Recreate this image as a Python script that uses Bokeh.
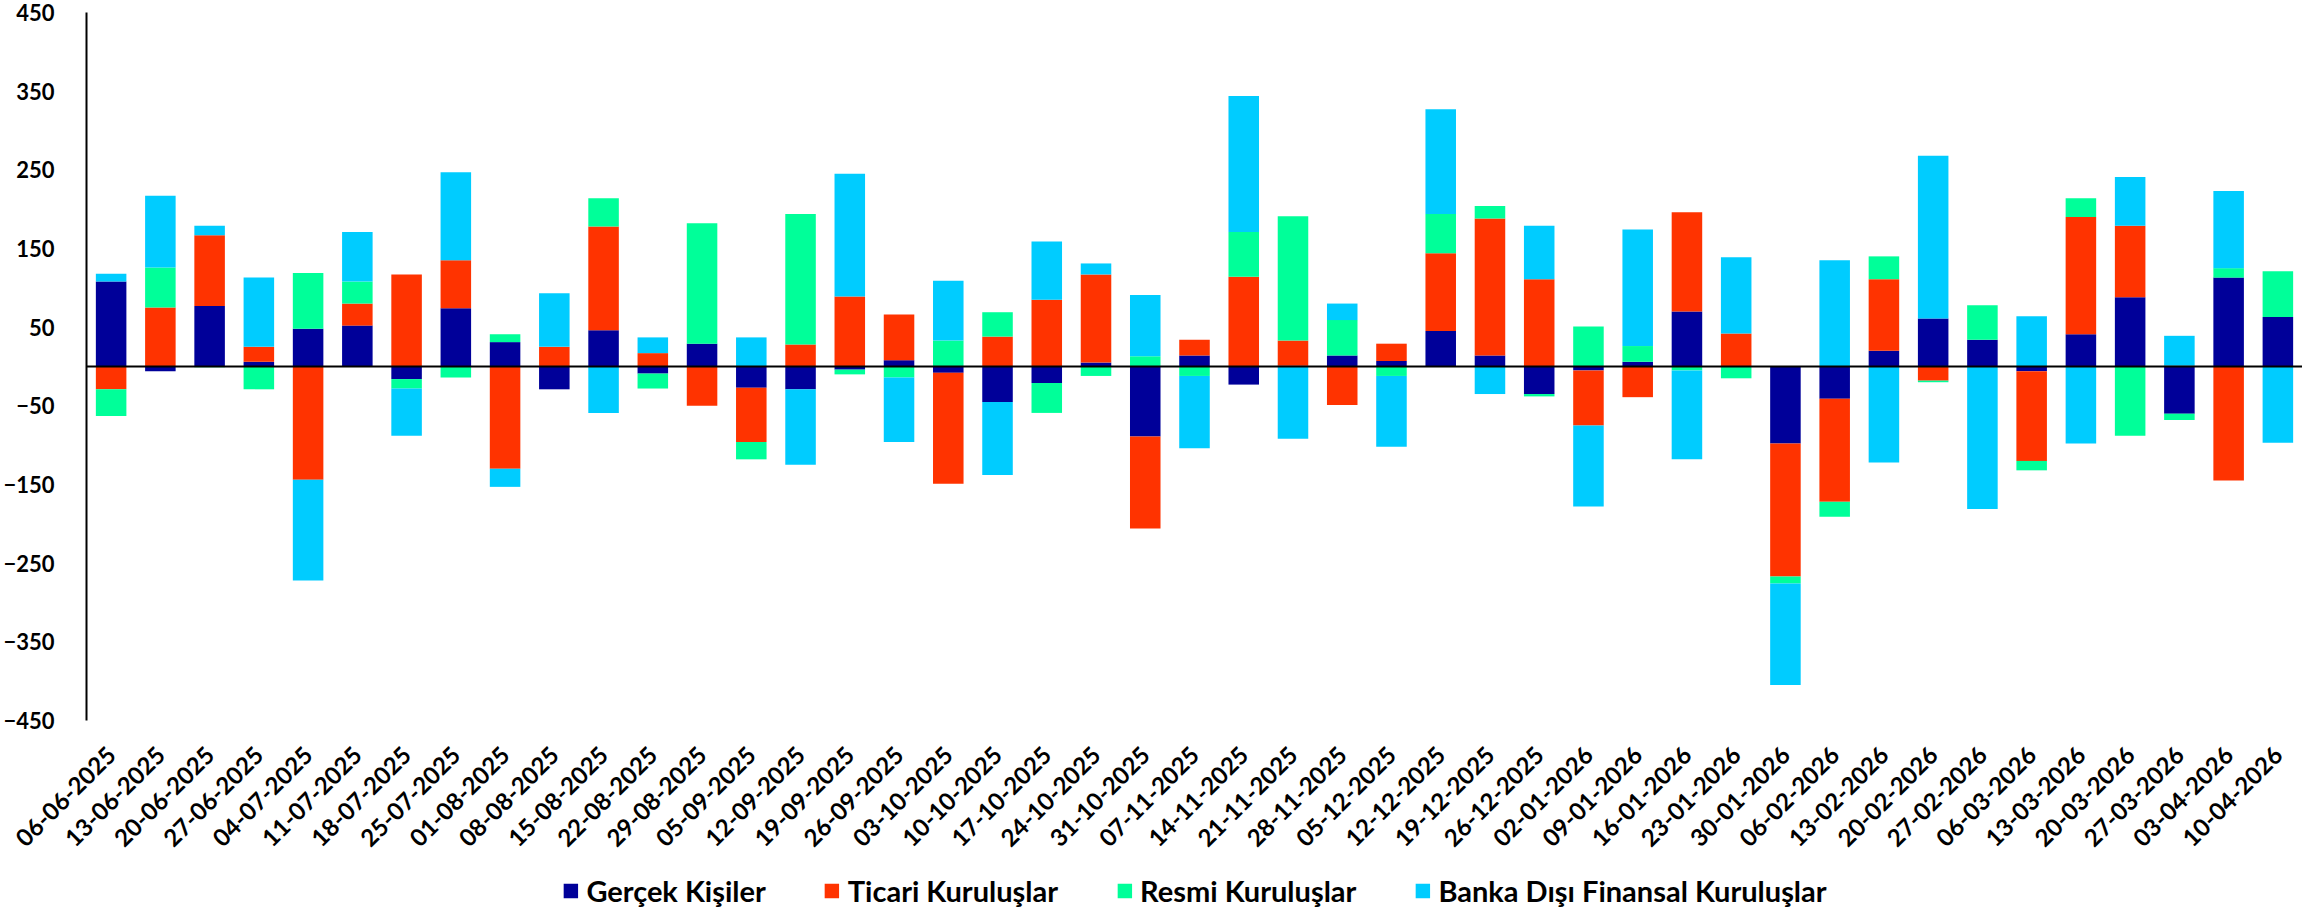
import math
from bokeh.plotting import figure
from bokeh.layouts import column
from bokeh.models import (ColumnDataSource, FactorRange, FixedTicker, Span,
                          Legend, LegendItem, Range1d)
from bokeh.embed import file_html
from bokeh.resources import INLINE

dates = ["06-06-2025", "13-06-2025", "20-06-2025", "27-06-2025", "04-07-2025",
         "11-07-2025", "18-07-2025", "25-07-2025", "01-08-2025", "08-08-2025",
         "15-08-2025", "22-08-2025", "29-08-2025", "05-09-2025", "12-09-2025",
         "19-09-2025", "26-09-2025", "03-10-2025", "10-10-2025", "17-10-2025",
         "24-10-2025", "31-10-2025", "07-11-2025", "14-11-2025", "21-11-2025",
         "28-11-2025", "05-12-2025", "12-12-2025", "19-12-2025", "26-12-2025",
         "02-01-2026", "09-01-2026", "16-01-2026", "23-01-2026", "30-01-2026",
         "06-02-2026", "13-02-2026", "20-02-2026", "27-02-2026", "06-03-2026",
         "13-03-2026", "20-03-2026", "27-03-2026", "03-04-2026", "10-04-2026"]

gercek_kisiler = [108, -6, 77, 6, 48, 52, -16, 74, 31, -29,
                  46, -9, 29, -27, -29, -4, 8, -8, -45, -21,
                  5, -89, 14, -23, 1, 14, 7, 45, 14, -35,
                  -5, 6, 70, 0, -98, -41, 20, 61, 34, -6,
                  41, 88, -60, 113, 63]
ticari_kuruluslar = [-29, 75, 90, 19, -144, 28, 117, 61, -130, 25,
                     132, 17, -50, -69, 28, 89, 58, -141, 38, 85,
                     112, -117, 20, 114, 32, -49, 22, 99, 174, 111,
                     -70, -39, 126, 42, -169, -131, 91, -18, 0, -114,
                     149, 91, 1, -145, 0]
resmi_kuruluslar = [-34, 51, -1, -29, 71, 28, -12, -14, 10, 0,
                    36, -19, 153, -22, 166, -6, -14, 33, 31, -38,
                    -12, 13, -12, 57, 158, 45, -12, 50, 16, -3,
                    51, 20, -5, -15, -9, -19, 29, -2, 44, -12,
                    24, -88, -8, 12, 58]
banka_disi = [10, 91, 12, 88, -128, 63, -60, 112, -23, 68,
              -59, 20, 0, 37, -96, 156, -82, 76, -93, 74,
              14, 78, -92, 173, -92, 21, -90, 133, -35, 68,
              -103, 148, -113, 97, -129, 135, -122, 207, -181, 64,
              -98, 62, 38, 98, -97]

series_names = ["Gerçek Kişiler", "Ticari Kuruluşlar", "Resmi Kuruluşlar",
                "Banka Dışı Finansal Kuruluşlar"]
series_values = [gercek_kisiler, ticari_kuruluslar, resmi_kuruluslar, banka_disi]
colors = ["#000099", "#FF3300", "#00FF99", "#00CCFF"]
y_ticks = [-450, -350, -250, -150, -50, 50, 150, 250, 350, 450]

FONT = "Lato"

p = figure(x_range=FactorRange(*dates, range_padding=0),
           y_range=Range1d(-450, 450),
           width=2302, height=906, output_backend="svg",
           toolbar_location=None, min_border_left=76, min_border_top=12,
           min_border_right=0, min_border_bottom=186)
p.outline_line_color = None
p.xgrid.grid_line_color = None
p.ygrid.grid_line_color = None

pos_base = [0.0] * len(dates)
neg_base = [0.0] * len(dates)
for name, vals, col in zip(series_names, series_values, colors):
    xs, bots, tops = [], [], []
    for i, v in enumerate(vals):
        if v >= 0:
            b = pos_base[i]
            pos_base[i] = b + v
        else:
            b = neg_base[i]
            neg_base[i] = b + v
        xs.append(dates[i])
        bots.append(b)
        tops.append(b + v)
    src = ColumnDataSource(dict(x=xs, bottom=bots, top=tops))
    p.vbar(x="x", bottom="bottom", top="top", width=0.62, source=src,
           fill_color=col, line_color=None)

p.add_layout(Span(location=0, dimension="width", line_color="black",
                  line_width=2))

# y axis
p.yaxis.ticker = FixedTicker(ticks=y_ticks)
p.yaxis.axis_line_color = "black"
p.yaxis.axis_line_width = 2
p.yaxis.major_tick_line_color = None
p.yaxis.minor_tick_line_color = None
p.yaxis.major_label_text_font = FONT
p.yaxis.major_label_text_font_style = "bold"
p.yaxis.major_label_text_font_size = "22px"
p.yaxis.major_label_text_color = "black"
p.yaxis.major_label_standoff = 26

# x axis
p.xaxis.axis_line_color = None
p.xaxis.major_tick_line_color = None
p.xaxis.minor_tick_line_color = None
p.xaxis.major_label_orientation = math.pi / 4
p.xaxis.major_label_text_font = FONT
p.xaxis.major_label_text_font_style = "bold"
p.xaxis.major_label_text_font_size = "24px"
p.xaxis.major_label_text_color = "black"
p.xaxis.major_label_standoff = 24

# legend strip (separate small figure, overlapping the empty space under labels)
lg = figure(width=2302, height=40, output_backend="svg", toolbar_location=None,
            x_range=FactorRange(*dates), x_axis_type=None, y_axis_type=None,
            min_border=0, min_border_left=0, min_border_right=0,
            min_border_top=0, min_border_bottom=0,
            margin=(-36, 0, 0, 0))
lg.outline_line_color = None
lg.background_fill_alpha = 0
lg.border_fill_alpha = 0
lg.xgrid.grid_line_color = None
lg.ygrid.grid_line_color = None
items = []
for name, vals, col in zip(series_names, series_values, colors):
    r = lg.vbar(x="x", top="top", width=0.5,
                source=ColumnDataSource(dict(x=dates[:1], top=vals[:1])),
                fill_color=col, line_color=None, visible=False)
    items.append(LegendItem(label=name, renderers=[r]))
legend = Legend(items=items, orientation="horizontal", location="center",
                label_text_font=FONT, label_text_font_style="bold",
                label_text_font_size="29px", label_text_color="black",
                glyph_width=18, glyph_height=18, label_standoff=7,
                spacing=57, border_line_color=None,
                background_fill_alpha=0, inactive_fill_alpha=0,
                margin=0, padding=2)
lg.add_layout(legend, "center")

layout = column(p, lg, spacing=0)
open("out.html", "w").write(file_html(layout, INLINE))
